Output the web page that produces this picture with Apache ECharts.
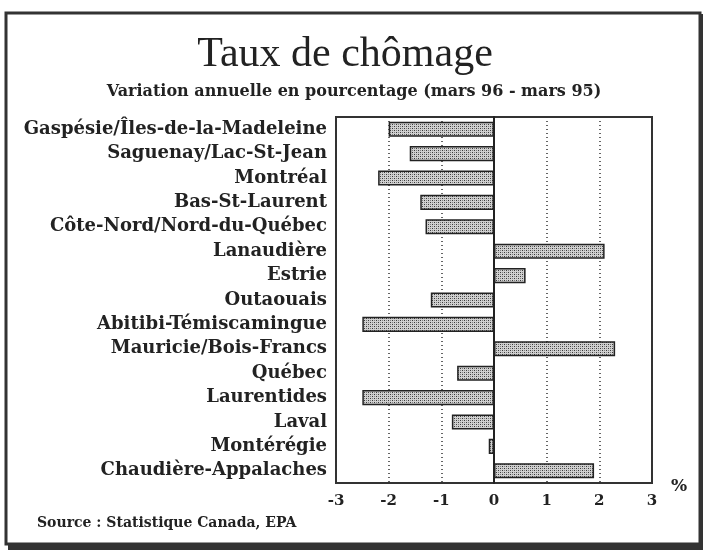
<!DOCTYPE html>
<html><head><meta charset="utf-8">
<script src="https://cdn.jsdelivr.net/npm/echarts@6/dist/echarts.min.js"></script>
<style>html,body{margin:0;padding:0;background:#fff}#c{width:705px;height:552px}</style>
</head><body><div id="c"></div>
<script>
const regions = ["Gaspésie/Îles-de-la-Madeleine","Saguenay/Lac-St-Jean","Montréal","Bas-St-Laurent","Côte-Nord/Nord-du-Québec","Lanaudière","Estrie","Outaouais","Abitibi-Témiscamingue","Mauricie/Bois-Francs","Québec","Laurentides","Laval","Montérégie","Chaudière-Appalaches"];
const variation = [-2.0,-1.6,-2.2,-1.4,-1.3,2.1,0.6,-1.2,-2.5,2.3,-0.7,-2.5,-0.8,-0.1,1.9];
const xTicks = [-3,-2,-1,0,1,2,3];

const pat = document.createElement('canvas');
pat.width = 4; pat.height = 4;
const pc = pat.getContext('2d');
pc.fillStyle = '#d0d0d0'; pc.fillRect(0,0,4,4);
pc.fillStyle = '#3a3a3a';
pc.fillRect(0,0,1,1); pc.fillRect(2,2,1,1);
pc.fillStyle = '#808080';
pc.fillRect(2,0,1,1); pc.fillRect(0,2,1,1);

const chart = echarts.init(document.getElementById('c'), null, {renderer:'canvas'});
const serif = 'DejaVu Serif';
chart.setOption({
  animation:false,
  backgroundColor:'#fff',
  title:[
    {text:'Taux de chômage', left:340, textAlign:'center', top:29, textStyle:{fontFamily:'Liberation Serif', fontSize:42, fontWeight:'normal', color:'#222'}},
    {text:'Variation annuelle en pourcentage (mars 96 - mars 95)', left:349, textAlign:'center', top:79, textStyle:{fontFamily:serif, fontSize:16, fontWeight:'bold', color:'#222'}}
  ],
  grid:{left:336, right:53, top:117, bottom:69, show:true, borderColor:'#333', borderWidth:2, backgroundColor:'transparent'},
  xAxis:{type:'value', min:-3, max:3, interval:1,
    axisLine:{show:false}, axisTick:{show:false},
    axisLabel:{fontFamily:serif, fontWeight:'bold', fontSize:15, color:'#222', margin:11, formatter:v=>String(v)},
    splitLine:{show:true, lineStyle:{type:[1,3], color:'#333', width:1.5}}
  },
  yAxis:{type:'category', data:regions, inverse:true,
    axisLine:{show:true, onZero:true, lineStyle:{color:'#222', width:2}},
    axisTick:{show:false},
    axisLabel:{fontFamily:serif, fontWeight:'bold', fontSize:18, color:'#222', margin:9, align:'right'}
  },
  series:[{type:'bar', data:variation, barWidth:'62%', z:1,
    itemStyle:{color:{image:pat, repeat:'repeat'}, borderColor:'#222', borderWidth:1.5}
  }],
  graphic:[
    {type:'text', left:671, top:478, style:{text:'%', font:'bold 17px "DejaVu Serif"', fill:'#222'}},
    {type:'text', left:37, top:516, style:{text:'Source : Statistique Canada, EPA', font:'bold 14px "DejaVu Serif"', fill:'#222'}},
    {type:'rect', shape:{x:6, y:13, width:694, height:531}, style:{fill:'none', stroke:'#333', lineWidth:3}},
    {type:'rect', shape:{x:8, y:544, width:694, height:6}, style:{fill:'#333'}},
    {type:'rect', shape:{x:700, y:14, width:3, height:536}, style:{fill:'#333'}}
  ]
});
</script></body></html>
